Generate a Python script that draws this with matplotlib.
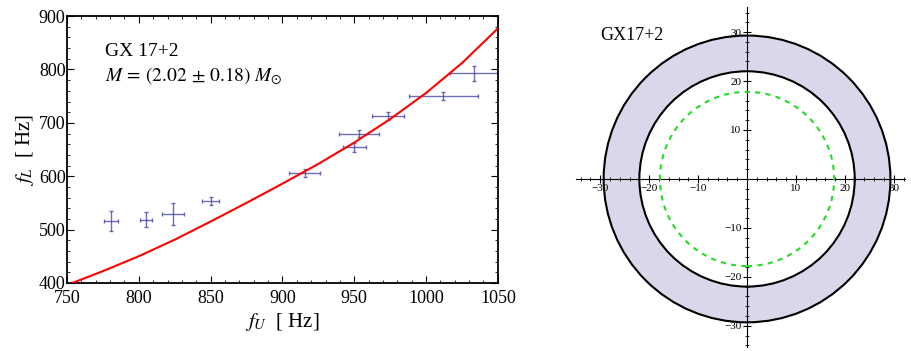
import matplotlib as mpl
import matplotlib.pyplot as plt
import numpy as np
from matplotlib.patches import Circle, Wedge

mpl.rcParams['font.family'] = ['Liberation Serif', 'DejaVu Serif']
mpl.rcParams['mathtext.fontset'] = 'stix'

# QPO pairs (upper / lower kHz frequencies) with errors
f_upper = [780.5, 805, 824, 850, 915.5, 950, 953.5, 973.5, 1012, 1033.5]
f_upper_err = [5, 4, 7.5, 6, 11, 8, 14, 11, 24, 17]
f_lower = [516, 518, 529, 554, 606, 654, 680, 713, 750, 793]
f_lower_err = [19, 14, 20, 7.5, 8, 8, 6, 7, 7.5, 14]

# best-fit model curve
model_fu = [750, 775, 800, 825, 850, 875, 900, 925, 950, 975, 1000, 1025, 1050]
model_fl = [396, 422, 450, 481, 515, 550, 586, 623, 663, 707, 756, 812, 877]

# radii for the right panel
r_outer = 29.3
r_inner = 22.0
r_dashed = 17.8

fig = plt.figure(figsize=(9.11, 3.51), dpi=100)

# ---- left panel ----
ax = fig.add_axes([0.0735, 0.194, 0.473, 0.760])
ax.plot(model_fu, model_fl, color='red', lw=1.5, zorder=3)
ax.errorbar(f_upper, f_lower, xerr=f_upper_err, yerr=f_lower_err, fmt='none',
            ecolor='#3c3ca0', elinewidth=1.0, capsize=1.5, alpha=0.75, zorder=2)
ax.set_xlim(750, 1050)
ax.set_ylim(400, 900)
ax.set_xticks(np.arange(750, 1051, 50))
ax.set_xticks(np.arange(750, 1051, 10), minor=True)
ax.set_yticks(np.arange(400, 901, 100))
ax.set_yticks(np.arange(400, 901, 20), minor=True)
ax.tick_params(which='both', direction='in', top=True, right=True, labelsize=13)
ax.tick_params(axis='x', pad=5)
ax.tick_params(axis='y', pad=1)
ax.tick_params(which='major', length=5)
ax.tick_params(which='minor', length=2.5)
for s in ax.spines.values():
    s.set_linewidth(1.3)
ax.set_xlabel(r'$f_U$  [ Hz]', fontsize=15, labelpad=3)
ax.set_ylabel(r'$f_L$  [ Hz]', fontsize=15, labelpad=2)
ax.text(0.088, 0.85, 'GX 17+2', transform=ax.transAxes, fontsize=14)
ax.text(0.088, 0.755, r'$M\,=\,(2.02\,\pm\,0.18)\;M_{\odot}$', transform=ax.transAxes, fontsize=14)

# ---- right panel ----
bx = fig.add_axes([0.632, 0.012, 0.361, 0.969])
bx.add_patch(Wedge((0, 0), r_outer, 0, 360, width=r_outer - r_inner,
                   facecolor='#d8d8ea', edgecolor='none'))
bx.add_patch(Circle((0, 0), r_outer, fill=False, edgecolor='black', lw=1.5, zorder=3))
bx.add_patch(Circle((0, 0), r_inner, fill=False, edgecolor='black', lw=1.5, zorder=3))
bx.add_patch(Circle((0, 0), r_dashed, fill=False, edgecolor='#22dd22', lw=1.5,
                    ls=(0, (2.5, 2.5)), zorder=3))
bx.set_xlim(-35.0, 32.2)
bx.set_ylim(-34.3, 35.2)
bx.set_aspect('equal', adjustable='datalim')
for side in ['top', 'right']:
    bx.spines[side].set_visible(False)
bx.spines['left'].set_position(('data', 0))
bx.spines['bottom'].set_position(('data', 0))
bx.spines['left'].set_linewidth(0.8)
bx.spines['bottom'].set_linewidth(0.8)
ticks = [-30, -20, -10, 10, 20, 30]
bx.set_xticks(ticks)
bx.set_yticks(ticks)
bx.set_xticks(np.arange(-34, 33, 2), minor=True)
bx.set_yticks(np.arange(-34, 35, 2), minor=True)
bx.set_xticklabels(['\u221230', '\u221220', '\u221210', '10', '20', '30'])
bx.set_yticklabels(['\u221230', '\u221220', '\u221210', '10', '20', '30'])
bx.tick_params(which='both', direction='inout', labelsize=8, pad=1)
bx.tick_params(which='major', length=6)
bx.tick_params(which='minor', length=3)
bx.text(-30, 28.4, 'GX17+2', fontsize=13)

fig.savefig('out.png', dpi=100)
